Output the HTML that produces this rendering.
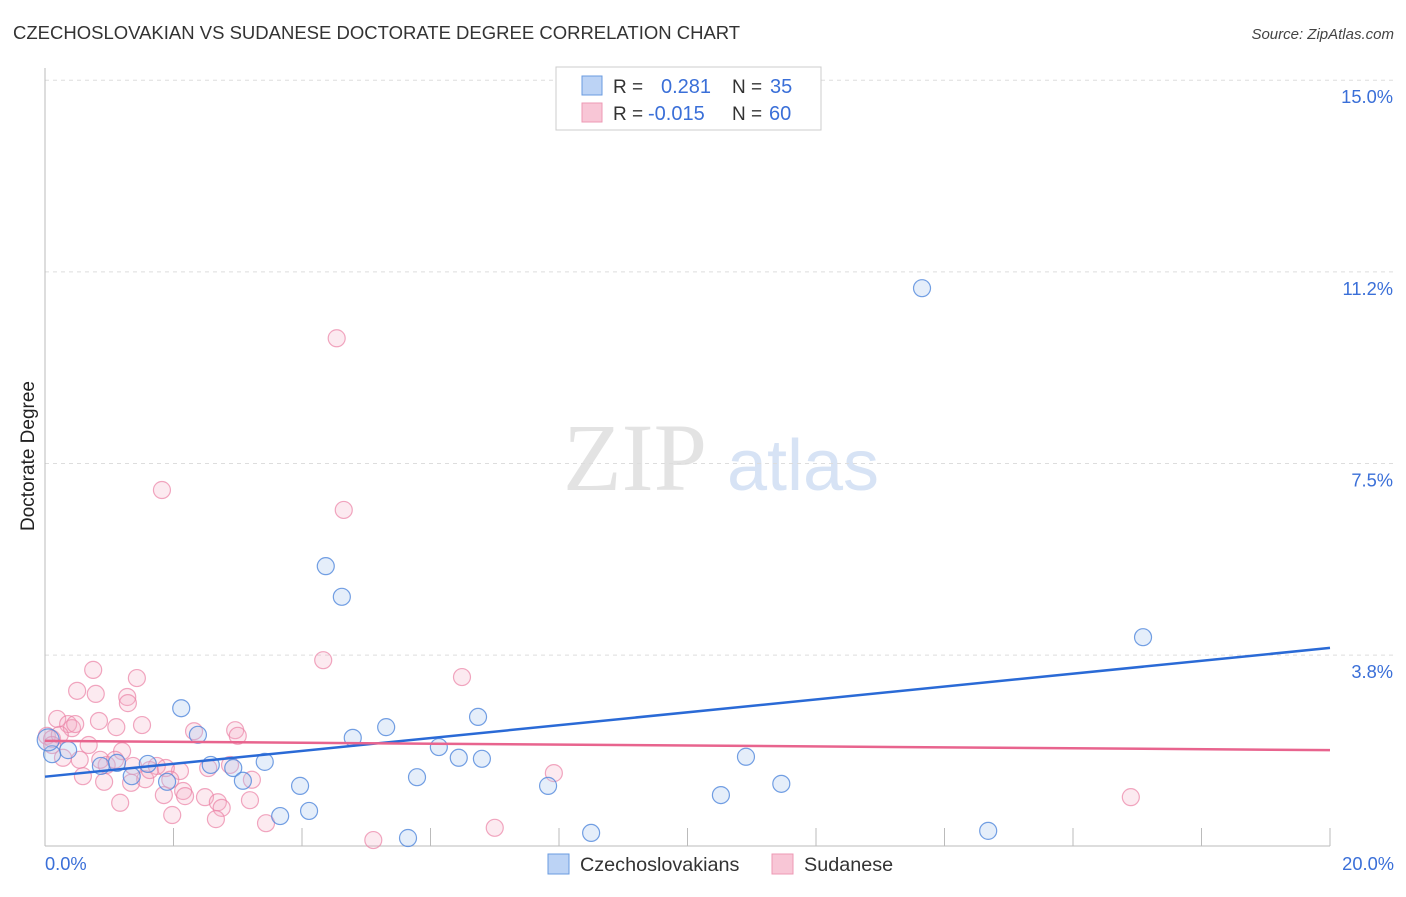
<!DOCTYPE html>
<html><head><meta charset="utf-8"><style>
body{margin:0;background:#fff;font-family:"Liberation Sans",sans-serif;}
</style></head><body>
<svg width="1406" height="892" xmlns="http://www.w3.org/2000/svg" font-family="Liberation Sans, sans-serif">
<text x="13" y="39" font-size="18.5" fill="#333">CZECHOSLOVAKIAN VS SUDANESE DOCTORATE DEGREE CORRELATION CHART</text>
<text x="1394" y="39" font-size="15" fill="#444" text-anchor="end" font-style="italic">Source: ZipAtlas.com</text>
<g>
<text x="635" y="490" font-size="96" fill="#e3e3e3" font-family="Liberation Serif, serif" text-anchor="middle">ZIP</text>
<text x="803" y="490" font-size="72" fill="#d7e3f5" text-anchor="middle">atlas</text>
</g>
<g id="grid"></g>
<g id="axes"></g>
<g id="marks"></g>
<text transform="translate(34,456) rotate(-90)" font-size="19" fill="#222" text-anchor="middle">Doctorate Degree</text>
<g>
<rect x="556" y="67" width="265" height="63" fill="#fff" stroke="#ccc"/>
<rect x="582" y="76" width="20" height="19" fill="#bcd3f5" stroke="#6a9be0"/>
<rect x="582" y="103" width="20" height="19" fill="#f8c6d6" stroke="#ee99b4"/>
<text x="613" y="93" font-size="19" fill="#333">R =</text>
<text x="661" y="93" font-size="20" fill="#3a6fd8">0.281</text>
<text x="732" y="93" font-size="19" fill="#333">N =</text>
<text x="770" y="93" font-size="20" fill="#3a6fd8">35</text>
<text x="613" y="120" font-size="19" fill="#333">R =</text>
<text x="648" y="120" font-size="20" fill="#3a6fd8">-0.015</text>
<text x="732" y="120" font-size="19" fill="#333">N =</text>
<text x="769" y="120" font-size="20" fill="#3a6fd8">60</text>
</g>
<g>
<rect x="548" y="854" width="21" height="20" fill="#bcd3f5" stroke="#6a9be0"/>
<text x="580" y="871" font-size="19.8" fill="#333">Czechoslovakians</text>
<rect x="772" y="854" width="21" height="20" fill="#f8c6d6" stroke="#ee99b4"/>
<text x="804" y="871" font-size="19.8" fill="#333">Sudanese</text>
</g>
</svg>
<script>
const yTicks=[3.75,7.5,11.25,15];
const yTickLabels=["3.8%","7.5%","11.2%","15.0%"];
const xLabels=["0.0%","20.0%"];
const czX=[13.65,17.09,4.37,4.62,2.12,2.38,5.31,6.74,4.79,6.13,6.44,6.80,10.91,5.79,7.83,11.46,10.52,3.97,4.11,3.66,5.65,8.50,14.68,3.42,2.93,2.58,3.08,1.90,1.60,1.35,1.12,0.87,0.36,0.11,0.05];
const czY=[10.93,4.10,5.49,4.89,2.71,2.19,2.34,2.54,2.13,1.95,1.74,1.72,1.76,1.36,1.19,1.23,1.01,1.19,0.70,0.60,0.17,0.27,0.31,1.66,1.54,1.60,1.29,1.27,1.62,1.38,1.64,1.58,1.89,1.81,2.09];
const suX=[4.54,1.82,4.65,4.33,6.49,0.75,1.43,0.50,0.79,1.28,1.29,0.19,0.36,0.84,0.42,1.51,1.11,2.32,2.96,3.00,0.03,0.11,0.68,1.20,0.28,0.54,0.96,1.37,1.74,2.10,2.54,1.88,3.22,0.59,0.92,1.34,1.56,2.15,1.85,2.18,2.49,3.19,1.17,2.69,2.75,1.98,2.66,3.44,7.92,16.90,7.00,5.11,0.86,0.23,0.47,0.11,1.63,2.88,1.09,1.95];
const suY=[9.95,6.98,6.59,3.65,3.32,3.46,3.30,3.05,2.99,2.93,2.81,2.50,2.40,2.46,2.32,2.38,2.34,2.26,2.28,2.17,2.17,2.11,1.99,1.87,1.74,1.70,1.60,1.58,1.58,1.48,1.54,1.54,1.31,1.38,1.27,1.25,1.32,1.09,1.01,0.99,0.97,0.91,0.86,0.87,0.76,0.62,0.54,0.46,1.44,0.97,0.37,0.13,1.70,2.19,2.40,1.99,1.50,1.60,1.70,1.31];
const czTrend=[1.37,3.89];
const suTrend=[2.07,1.89];
const NS="http://www.w3.org/2000/svg";
const X0=45,X1=1330,Y0=846.7,PY=51.1;
const sx=v=>X0+(v/20)*(X1-X0);
const sy=v=>Y0-v*PY;
function mk(tag,attrs,parent){const e=document.createElementNS(NS,tag);for(const k in attrs)e.setAttribute(k,attrs[k]);document.getElementById(parent).appendChild(e);return e;}
yTicks.forEach((t,i)=>{
 const g=mk('line',{x1:X0,x2:1394,y1:sy(t),y2:sy(t),stroke:'#ddd','stroke-dasharray':'4,4'},'grid');
 
 
 const l=mk('text',{x:1393,y:sy(t)+23,'font-size':18.3,fill:'#3a6fd8','text-anchor':'end'},'axes');
 l.textContent=yTickLabels[i];
 
 
});
const ya=mk('line',{x1:X0,x2:X0,y1:68,y2:846,stroke:'#bbb'},'axes');


const xa=mk('line',{x1:X0,x2:X1,y1:846,y2:846,stroke:'#bbb'},'axes');


for(let i=1;i<=10;i++){
 const t=mk('line',{x1:sx(i*2),x2:sx(i*2),y1:828,y2:846,stroke:'#bbb'},'axes');
 
 
}
const xl0=mk('text',{x:45,y:870,'font-size':18.3,fill:'#3a6fd8'},'axes');xl0.textContent=xLabels[0];


const xl1=mk('text',{x:1394,y:870,'font-size':18.3,fill:'#3a6fd8','text-anchor':'end'},'axes');xl1.textContent=xLabels[1];


suX.forEach((v,i)=>{
 const c=mk('circle',{cx:sx(v),cy:sy(suY[i]),r:8.5,fill:'rgba(245,170,195,0.25)',stroke:'rgba(235,130,165,0.7)','stroke-width':1.2},'marks');
 
 
});
czX.forEach((v,i)=>{
 const c=mk('circle',{cx:sx(v),cy:sy(czY[i]),r:i===czX.length-1?11:8.5,fill:'rgba(170,200,240,0.3)',stroke:'rgba(80,135,220,0.8)','stroke-width':1.2},'marks');
 
 
});
const tb=mk('line',{x1:sx(0),x2:sx(20),y1:sy(czTrend[0]),y2:sy(czTrend[1]),stroke:'#2a6ad6','stroke-width':2.5},'marks');


const tp=mk('line',{x1:sx(0),x2:sx(20),y1:sy(suTrend[0]),y2:sy(suTrend[1]),stroke:'#e8648e','stroke-width':2.5},'marks');


</script>
</body></html>
